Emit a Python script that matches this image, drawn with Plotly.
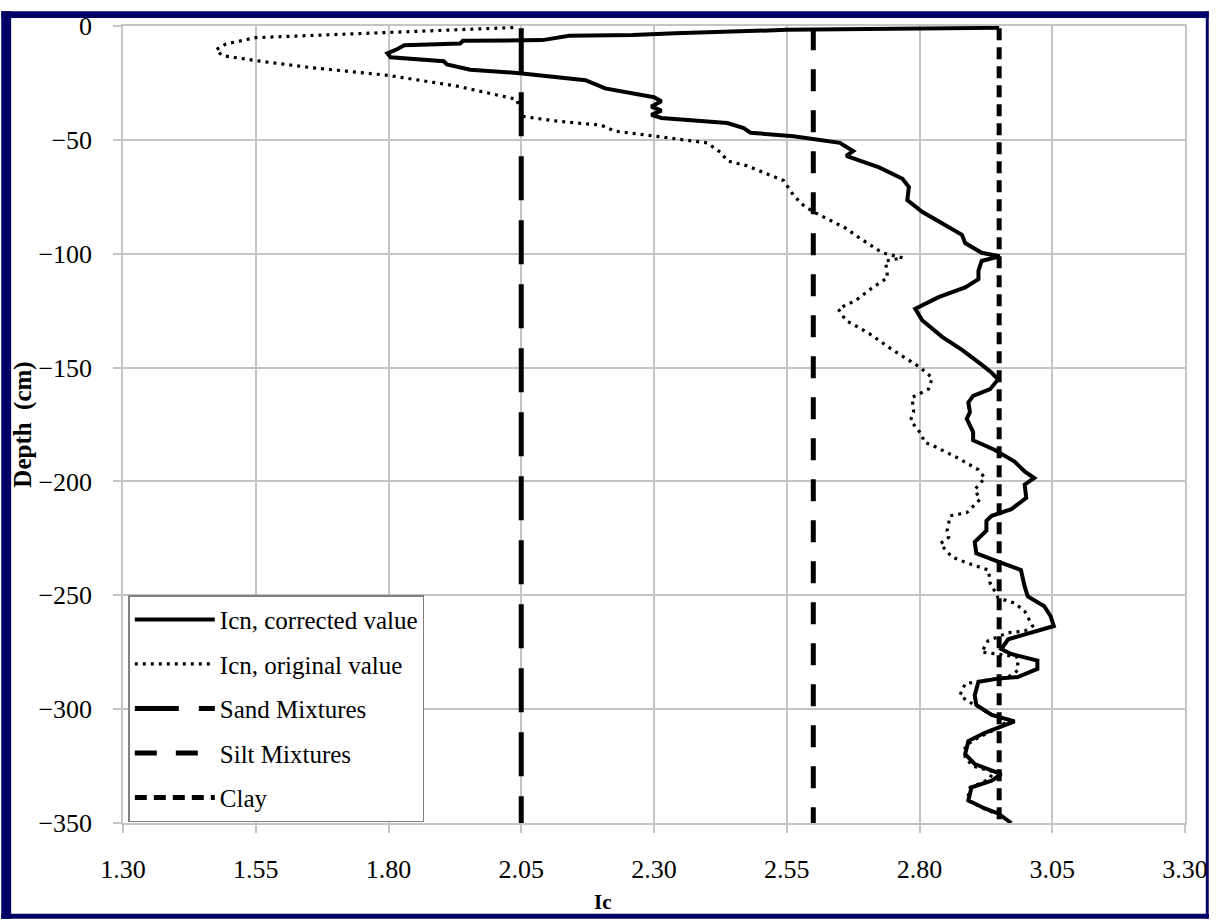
import plotly.graph_objects as go

# Ic (normalised soil behaviour type index) against depth, two CPT interpretations
corrected_ic = [2.95, 2.60, 2.55, 2.34, 2.26, 2.14, 2.09, 1.94, 1.935, 1.83, 1.817, 1.798, 1.804,
                1.904, 1.910, 1.954, 2.047, 2.171, 2.208, 2.30, 2.314, 2.295, 2.314, 2.295, 2.314,
                2.438, 2.469, 2.482, 2.563, 2.650, 2.675, 2.662, 2.687, 2.724, 2.768, 2.780, 2.777,
                2.805, 2.848, 2.880, 2.886, 2.917, 2.951, 2.917, 2.911, 2.911, 2.886, 2.836, 2.792,
                2.805, 2.842, 2.880, 2.917, 2.936, 2.948, 2.933, 2.901, 2.892, 2.895, 2.889, 2.901,
                2.901, 2.942, 2.979, 2.998, 3.016, 2.998, 3.001, 2.973, 2.936, 2.926, 2.926, 2.904,
                2.907, 2.948, 2.991, 2.998, 3.004, 3.035, 3.047, 3.053, 3.010, 2.967, 2.954, 2.973,
                3.022, 3.022, 2.985, 2.948, 2.911, 2.904, 2.907, 2.936, 2.979, 2.948, 2.923, 2.892,
                2.886, 2.904, 2.942, 2.954, 2.936, 2.898, 2.892, 2.923, 2.948, 2.973]
corrected_depth = [-0.8, -1.4, -1.7, -3.2, -3.9, -4.3, -6.2, -6.5, -7.7, -8.4, -10.1, -12.0, -13.7,
                   -15.5, -16.9, -19.2, -20.7, -23.8, -27.4, -31.3, -33.0, -35.4, -37.2, -39.0, -40.4,
                   -42.6, -44.8, -46.9, -48.4, -51.3, -54.9, -57.0, -59.2, -62.1, -67.1, -70.7, -76.5,
                   -81.6, -87.4, -91.7, -95.3, -99.6, -101.1, -103.2, -107.5, -111.2, -114.8, -119.1, -124.2,
                   -129.2, -136.4, -142.2, -148.7, -152.3, -155.2, -159.5, -162.4, -165.3, -169.6, -172.5, -178.3,
                   -181.9, -186.2, -191.3, -195.6, -198.5, -201.4, -207.2, -212.2, -215.1, -217.3, -221.6, -226.6,
                   -231.6, -235.2, -238.9, -246.1, -250.5, -254.8, -259.2, -263.5, -266.4, -269.3, -273.6, -275.8,
                   -278.7, -282.3, -285.9, -286.6, -288.0, -293.9, -298.2, -302.5, -305.4, -308.3, -310.4, -314.0,
                   -319.8, -324.1, -327.1, -328.5, -331.4, -334.3, -340.1, -343.6, -345.8, -350.0]

original_ic = [2.035, 1.80, 1.55, 1.494, 1.475, 1.487, 1.55, 1.655, 1.80, 1.929, 2.041, 2.053, 2.121,
               2.20, 2.227, 2.302, 2.400, 2.426, 2.438, 2.475, 2.544, 2.563, 2.581, 2.600, 2.661,
               2.687, 2.730, 2.768, 2.736, 2.740, 2.712, 2.680, 2.647, 2.661, 2.705, 2.749, 2.799,
               2.824, 2.817, 2.786, 2.789, 2.783, 2.805, 2.808, 2.830, 2.873, 2.911, 2.923, 2.904,
               2.914, 2.889, 2.858, 2.852, 2.855, 2.839, 2.861, 2.892, 2.930, 2.933, 2.942, 2.948,
               2.979, 2.998, 3.013, 2.998, 2.967, 2.929, 2.917, 2.948, 2.985, 2.985, 2.967, 2.911,
               2.886, 2.876, 2.892, 2.911, 2.929, 2.954, 2.960, 2.935, 2.904, 2.886, 2.886, 2.900,
               2.940, 2.930, 2.895, 2.890, 2.920, 2.945]
original_depth = [-0.7, -2.9, -5.1, -7.9, -10.5, -13.0, -15.2, -18.3, -21.7, -26.4, -32.2, -39.7, -41.9,
                  -43.5, -46.2, -48.4, -51.3, -55.6, -59.2, -61.4, -67.9, -74.4, -78.7, -81.6, -88.8,
                  -93.1, -99.6, -101.8, -103.2, -110.5, -114.8, -120.5, -124.2, -129.2, -135.0, -142.2, -149.6,
                  -154.5, -159.5, -163.1, -169.6, -173.2, -179.7, -182.6, -184.8, -189.8, -194.9, -198.5, -203.6,
                  -207.9, -213.7, -215.1, -221.6, -224.5, -227.4, -233.2, -236.0, -238.9, -244.7, -248.3, -251.2,
                  -253.4, -257.0, -263.5, -265.7, -266.4, -270.0, -275.0, -275.8, -277.2, -283.0, -285.9, -288.0,
                  -288.8, -293.9, -296.7, -298.8, -301.7, -303.9, -306.8, -309.7, -313.3, -316.2, -321.2, -325.0,
                  -327.5, -331.0, -334.5, -340.0, -343.5, -346.0]

# Soil-type boundary values of Ic
boundary_names = ["Sand Mixtures", "Silt Mixtures", "Clay"]
boundary_ic = [2.05, 2.60, 2.95]
boundary_depth = [-1, -350]

x_ticks = [1.30, 1.55, 1.80, 2.05, 2.30, 2.55, 2.80, 3.05, 3.30]
y_ticks = [0, -50, -100, -150, -200, -250, -300, -350]

SERIF = "Liberation Serif"
NAVY = "#000066"
GRID = "#c4c4c4"

fig = go.Figure()

fig.add_trace(go.Scatter(
    x=corrected_ic, y=corrected_depth, mode="lines", name="Icn, corrected value",
    legendgroup="a", line=dict(color="black", width=4)))
fig.add_trace(go.Scatter(
    x=original_ic, y=original_depth, mode="lines", name="Icn, original value",
    legendgroup="b", line=dict(color="black", width=3.2, dash="3px,5px")))

boundary_dash = ["44px,20px", "22px,19px", "12px,7px"]
for i, (name, ic, dash) in enumerate(zip(boundary_names, boundary_ic, boundary_dash)):
    fig.add_trace(go.Scatter(
        x=[ic, ic], y=boundary_depth, mode="lines", name=name,
        legendgroup="c%d" % i, line=dict(color="black", width=5, dash=dash)))

# dark frame around the white chart area
W, H = 1220, 920
L, R, T, B = 123, 24, 15, 97
pw, ph = W - L - R, H - T - B
frame = [(0, 0, 1220, 7), (0, 0, 10, 920), (0, 915, 1220, 920), (1217, 0, 1220, 920)]
for x0, y0, x1, y1 in frame:
    fig.add_shape(type="rect", xref="paper", yref="paper",
                  x0=(x0 - L) / pw, x1=(x1 - L) / pw,
                  y0=(H - B - y0) / ph, y1=(H - B - y1) / ph,
                  fillcolor=NAVY, line=dict(width=0), layer="above")

fig.add_annotation(text="<b>Ic</b>", xref="paper", yref="paper",
                   x=(608 - L) / pw, y=(H - B - 889) / ph, xanchor="center", yanchor="top",
                   showarrow=False, font=dict(family=SERIF, size=21, color="black"))

fig.update_layout(
    width=W, height=H,
    margin=dict(l=L, r=R, t=T, b=B),
    paper_bgcolor="white", plot_bgcolor="white",
    font=dict(family=SERIF, color="black"),
    showlegend=True,
    legend=dict(x=0.005, y=(H - B - 592) / ph, xanchor="left", yanchor="top",
                bgcolor="white", bordercolor="#808080", borderwidth=1.5,
                font=dict(family=SERIF, size=25, color="black"),
                itemwidth=80, traceorder="grouped", tracegroupgap=9),
    xaxis=dict(range=[1.3, 3.3], tickvals=x_ticks, ticktext=["%.2f" % v for v in x_ticks],
               showgrid=True, gridcolor=GRID, gridwidth=1.5, zeroline=False,
               showline=True, linecolor=GRID, linewidth=1.5, mirror=True,
               ticks="outside", ticklen=8, tickcolor=GRID, tickwidth=1.5,
               tickfont=dict(family=SERIF, size=26), ticklabelstandoff=14),
    yaxis=dict(range=[-350, 0], tickvals=y_ticks,
               showgrid=True, gridcolor=GRID, gridwidth=1.5, zeroline=False,
               showline=True, linecolor=GRID, linewidth=1.5, mirror=True,
               ticks="outside", ticklen=8, tickcolor=GRID, tickwidth=1.5,
               tickfont=dict(family=SERIF, size=26), ticklabelstandoff=16,
               title=dict(text="<b>Depth  (cm)</b>", font=dict(family=SERIF, size=25), standoff=0)),
)

fig.write_html("out.html")
